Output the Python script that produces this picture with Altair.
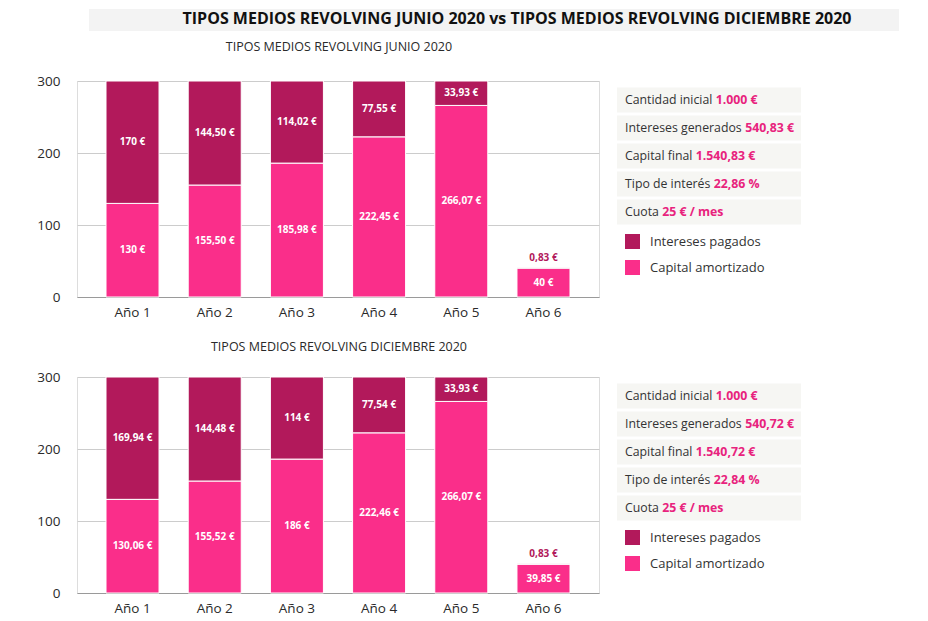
import altair as alt
import pandas as pd

# ---------------- data ----------------
years = ["Año 1", "Año 2", "Año 3", "Año 4", "Año 5", "Año 6"]
jun_capital = [130, 155.50, 185.98, 222.45, 266.07, 40]
jun_interest = [170, 144.50, 114.02, 77.55, 33.93, 0.83]
dic_capital = [130.06, 155.52, 186, 222.46, 266.07, 39.85]
dic_interest = [169.94, 144.48, 114, 77.54, 33.93, 0.83]

series = ["Intereses pagados", "Capital amortizado"]
y_ticks = [0, 100, 200, 300]

info_labels = ["Cantidad inicial", "Intereses generados", "Capital final",
               "Tipo de interés", "Cuota"]
jun_info = ["1.000 €", "540,83 €", "1.540,83 €", "22,86 %", "25 € / mes"]
dic_info = ["1.000 €", "540,72 €", "1.540,72 €", "22,84 %", "25 € / mes"]

main_title = "TIPOS MEDIOS REVOLVING JUNIO 2020 vs TIPOS MEDIOS REVOLVING DICIEMBRE 2020"
jun_title = "TIPOS MEDIOS REVOLVING JUNIO 2020"
dic_title = "TIPOS MEDIOS REVOLVING DICIEMBRE 2020"

# ---------------- style ----------------
DARK = "#b2195b"
LIGHT = "#fa2e8a"
PINK_TXT = "#e8237d"
TXT = "#2a2a2a"
FONT = "Open Sans"
W = 522
H = 216
INFO_FS = 12.3

# approximate Open Sans regular advance widths (em)
_w = {" ": 0.26, "a": 0.556, "b": 0.613, "c": 0.476, "d": 0.613, "e": 0.561,
      "é": 0.561, "f": 0.339, "g": 0.548, "h": 0.614, "i": 0.253, "j": 0.253,
      "k": 0.525, "l": 0.253, "m": 0.93, "n": 0.614, "o": 0.604, "p": 0.613,
      "q": 0.613, "r": 0.408, "s": 0.477, "t": 0.353, "u": 0.614, "v": 0.5,
      "w": 0.778, "x": 0.524, "y": 0.502, "z": 0.477, "C": 0.633, "I": 0.295,
      "T": 0.566}


def text_width(s, fs):
    return sum(_w.get(ch, 0.58) for ch in s) * fs


def eur(v):
    if abs(v - round(v)) < 1e-9:
        s = f"{int(round(v))}"
    else:
        s = f"{v:.2f}".replace(".", ",")
    return s + " €"


def panel(capital, interest, subtitle, info_values, top=False):
    rows = []
    for yr, c, i in zip(years, capital, interest):
        rows.append({"year": yr, "series": "Capital amortizado", "value": c, "ord": 0})
        rows.append({"year": yr, "series": "Intereses pagados", "value": i, "ord": 1})
    bars_df = pd.DataFrame(rows)

    lab = []
    for yr, c, i in zip(years, capital, interest):
        lab.append({"year": yr, "y": c / 2, "label": eur(c), "inside": True})
        if i >= 10:
            lab.append({"year": yr, "y": c + i / 2, "label": eur(i), "inside": True})
        else:
            lab.append({"year": yr, "y": c + i, "label": eur(i), "inside": False})
    lab_df = pd.DataFrame(lab)

    xs = alt.X("year:N", sort=years,
               scale=alt.Scale(paddingInner=0.355, paddingOuter=0.353),
               axis=alt.Axis(title=None, labelAngle=0, ticks=False, domain=True,
                             domainColor="#9a9a9a", domainWidth=1,
                             labelPadding=8, labelFontSize=13.5, labelColor=TXT,
                             labelFont=FONT, grid=False))
    ysc = alt.Scale(domain=[0, 300], nice=False)

    bars = alt.Chart(bars_df).mark_bar(stroke="white", strokeWidth=1).encode(
        x=xs,
        y=alt.Y("value:Q", stack="zero", scale=ysc,
                axis=alt.Axis(values=y_ticks, title=None, domain=False, ticks=False,
                              labelPadding=17, labelFontSize=13.5, labelColor=TXT,
                              labelFont=FONT, gridColor="#cccccc", grid=True)),
        color=alt.Color("series:N", scale=alt.Scale(domain=series, range=[DARK, LIGHT]),
                        legend=alt.Legend(orient="none", legendX=548, legendY=153,
                                          title=None, symbolType="square",
                                          symbolSize=225, symbolStrokeWidth=0,
                                          symbolOpacity=1, labelFontSize=13,
                                          labelFont=FONT, labelColor="#333",
                                          rowPadding=11, labelOffset=10, padding=0)),
        order=alt.Order("ord:Q"),
    )
    txt_in = alt.Chart(lab_df).transform_filter("datum.inside").mark_text(
        color="white", fontWeight="bold", fontSize=10, font=FONT, baseline="middle"
    ).encode(x=alt.X("year:N", sort=years), y=alt.Y("y:Q", scale=ysc), text="label:N")
    txt_out = alt.Chart(lab_df).transform_filter("!datum.inside").mark_text(
        color=DARK, fontWeight="bold", fontSize=10, font=FONT, baseline="middle", dy=-10
    ).encode(x=alt.X("year:N", sort=years), y=alt.Y("y:Q", scale=ysc), text="label:N")
    bar_layer = alt.layer(bars, txt_in, txt_out)

    # info boxes
    info_df = pd.DataFrame({"row": list(range(len(info_labels))),
                            "label": info_labels, "value": info_values})
    info_df["vx"] = [548 + text_width(s + " ", INFO_FS) for s in info_labels]
    iy = alt.Scale(domain=[0, 4], range=[19, 131])
    ix = alt.Scale(domain=[0, 1000], range=[0, 1000])
    rects = alt.Chart(info_df).transform_calculate(
        t="datum.row - 0.45", b="datum.row + 0.45"
    ).mark_rect(color="#f6f6f3").encode(
        x=alt.value(540), x2=alt.value(724),
        y=alt.Y("t:Q", scale=iy, axis=None), y2="b:Q")
    ilab = alt.Chart(info_df).mark_text(
        align="left", baseline="middle", font=FONT, fontSize=INFO_FS, color="#333"
    ).encode(x=alt.value(548), y=alt.Y("row:Q", scale=iy, axis=None), text="label:N")
    ival = alt.Chart(info_df).mark_text(
        align="left", baseline="middle", font=FONT, fontSize=INFO_FS,
        fontWeight="bold", color=PINK_TXT
    ).encode(x=alt.X("vx:Q", scale=ix, axis=None),
             y=alt.Y("row:Q", scale=iy, axis=None), text="value:N")
    info_layer = alt.layer(rects, ilab, ival)

    sub_df = pd.DataFrame({"t": [subtitle]})
    sub = alt.Chart(sub_df).mark_text(
        font=FONT, fontSize=12.5, color=TXT, baseline="middle", align="center"
    ).encode(x=alt.value(262), y=alt.value(-34 if top else -30), text="t:N")

    layers = [bar_layer, info_layer, sub]
    if top:
        t_df = pd.DataFrame({"t": [main_title]})
        band = alt.Chart(t_df).mark_rect(color="#f3f3f3").encode(
            x=alt.value(12), x2=alt.value(822), y=alt.value(-72), y2=alt.value(-50))
        ttl = alt.Chart(t_df).mark_text(
            font=FONT, fontSize=16, fontWeight="bold", color="#111",
            baseline="middle", align="center"
        ).encode(x=alt.value(440), y=alt.value(-62), text="t:N")
        layers = [band, ttl] + layers
    return alt.layer(*layers).resolve_scale(x="independent", y="independent").properties(
        width=W, height=H)


top = panel(jun_capital, jun_interest, jun_title, jun_info, top=True)
bottom = panel(dic_capital, dic_interest, dic_title, dic_info)

chart = alt.vconcat(top, bottom, spacing=21).resolve_scale(
    color="independent"
).properties(
    padding={"left": 28, "top": 0, "right": 0, "bottom": 0}
).configure_view(stroke=None).configure(background="white")

chart.save("out.html", embed_options={"renderer": "svg", "actions": False})
